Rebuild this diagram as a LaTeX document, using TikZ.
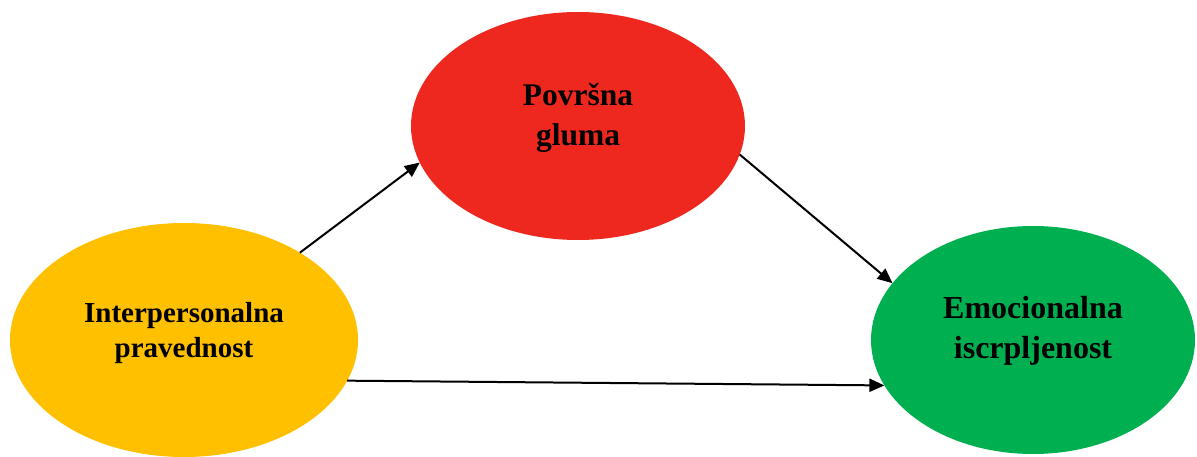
\documentclass[tikz,border=0pt]{standalone}
\usepackage{fontspec}
\setmainfont{Liberation Serif}
\usetikzlibrary{arrows.meta, shapes}

\definecolor{ipYellow}{RGB}{255,192,0}
\definecolor{pgRed}{RGB}{238,40,30}
\definecolor{eiGreen}{RGB}{0,176,80}

\begin{document}
\begin{tikzpicture}[x=1pt, y=-1pt, node distance=7pt]
\tikzstyle{var}=[ellipse, inner sep=0pt, outer sep=0pt]
\tikzstyle{lbl}=[align=center, font=\bfseries\fontsize{32}{40}\selectfont]
\tikzstyle{post}=[-{Triangle[length=15pt,width=13pt]}, line width=2pt]
%
\useasboundingbox (0,0) rectangle (1197,457);

\node [var, fill=ipYellow, minimum width=348pt, minimum height=234pt] (ip) at (184,340) {};
\node [lbl, font=\bfseries\fontsize{29}{35}\selectfont] [above of=ip] (ipt) {Interpersonalna\\pravednost};
\node [var, fill=pgRed, minimum width=334pt, minimum height=228pt] (pg) at (578,126) {};
\node [lbl, font=\bfseries\fontsize{31.5}{40}\selectfont] [above of=pg, node distance=8pt] (pgt) {Površna\\gluma};
\node [var, fill=eiGreen, minimum width=324pt, minimum height=228pt] (ei) at (1033,340) {};
\node [lbl] [above of=ei, node distance=9pt] (eit) {Emocionalna\\iscrpljenost};

\draw [post] (ip.37.6) -- (pg.193.5);
\draw [post] (pg.-10.6) -- (ei.158);
\draw [post] (ip.-14) -- (ei.197);
%
\end{tikzpicture}
\end{document}
